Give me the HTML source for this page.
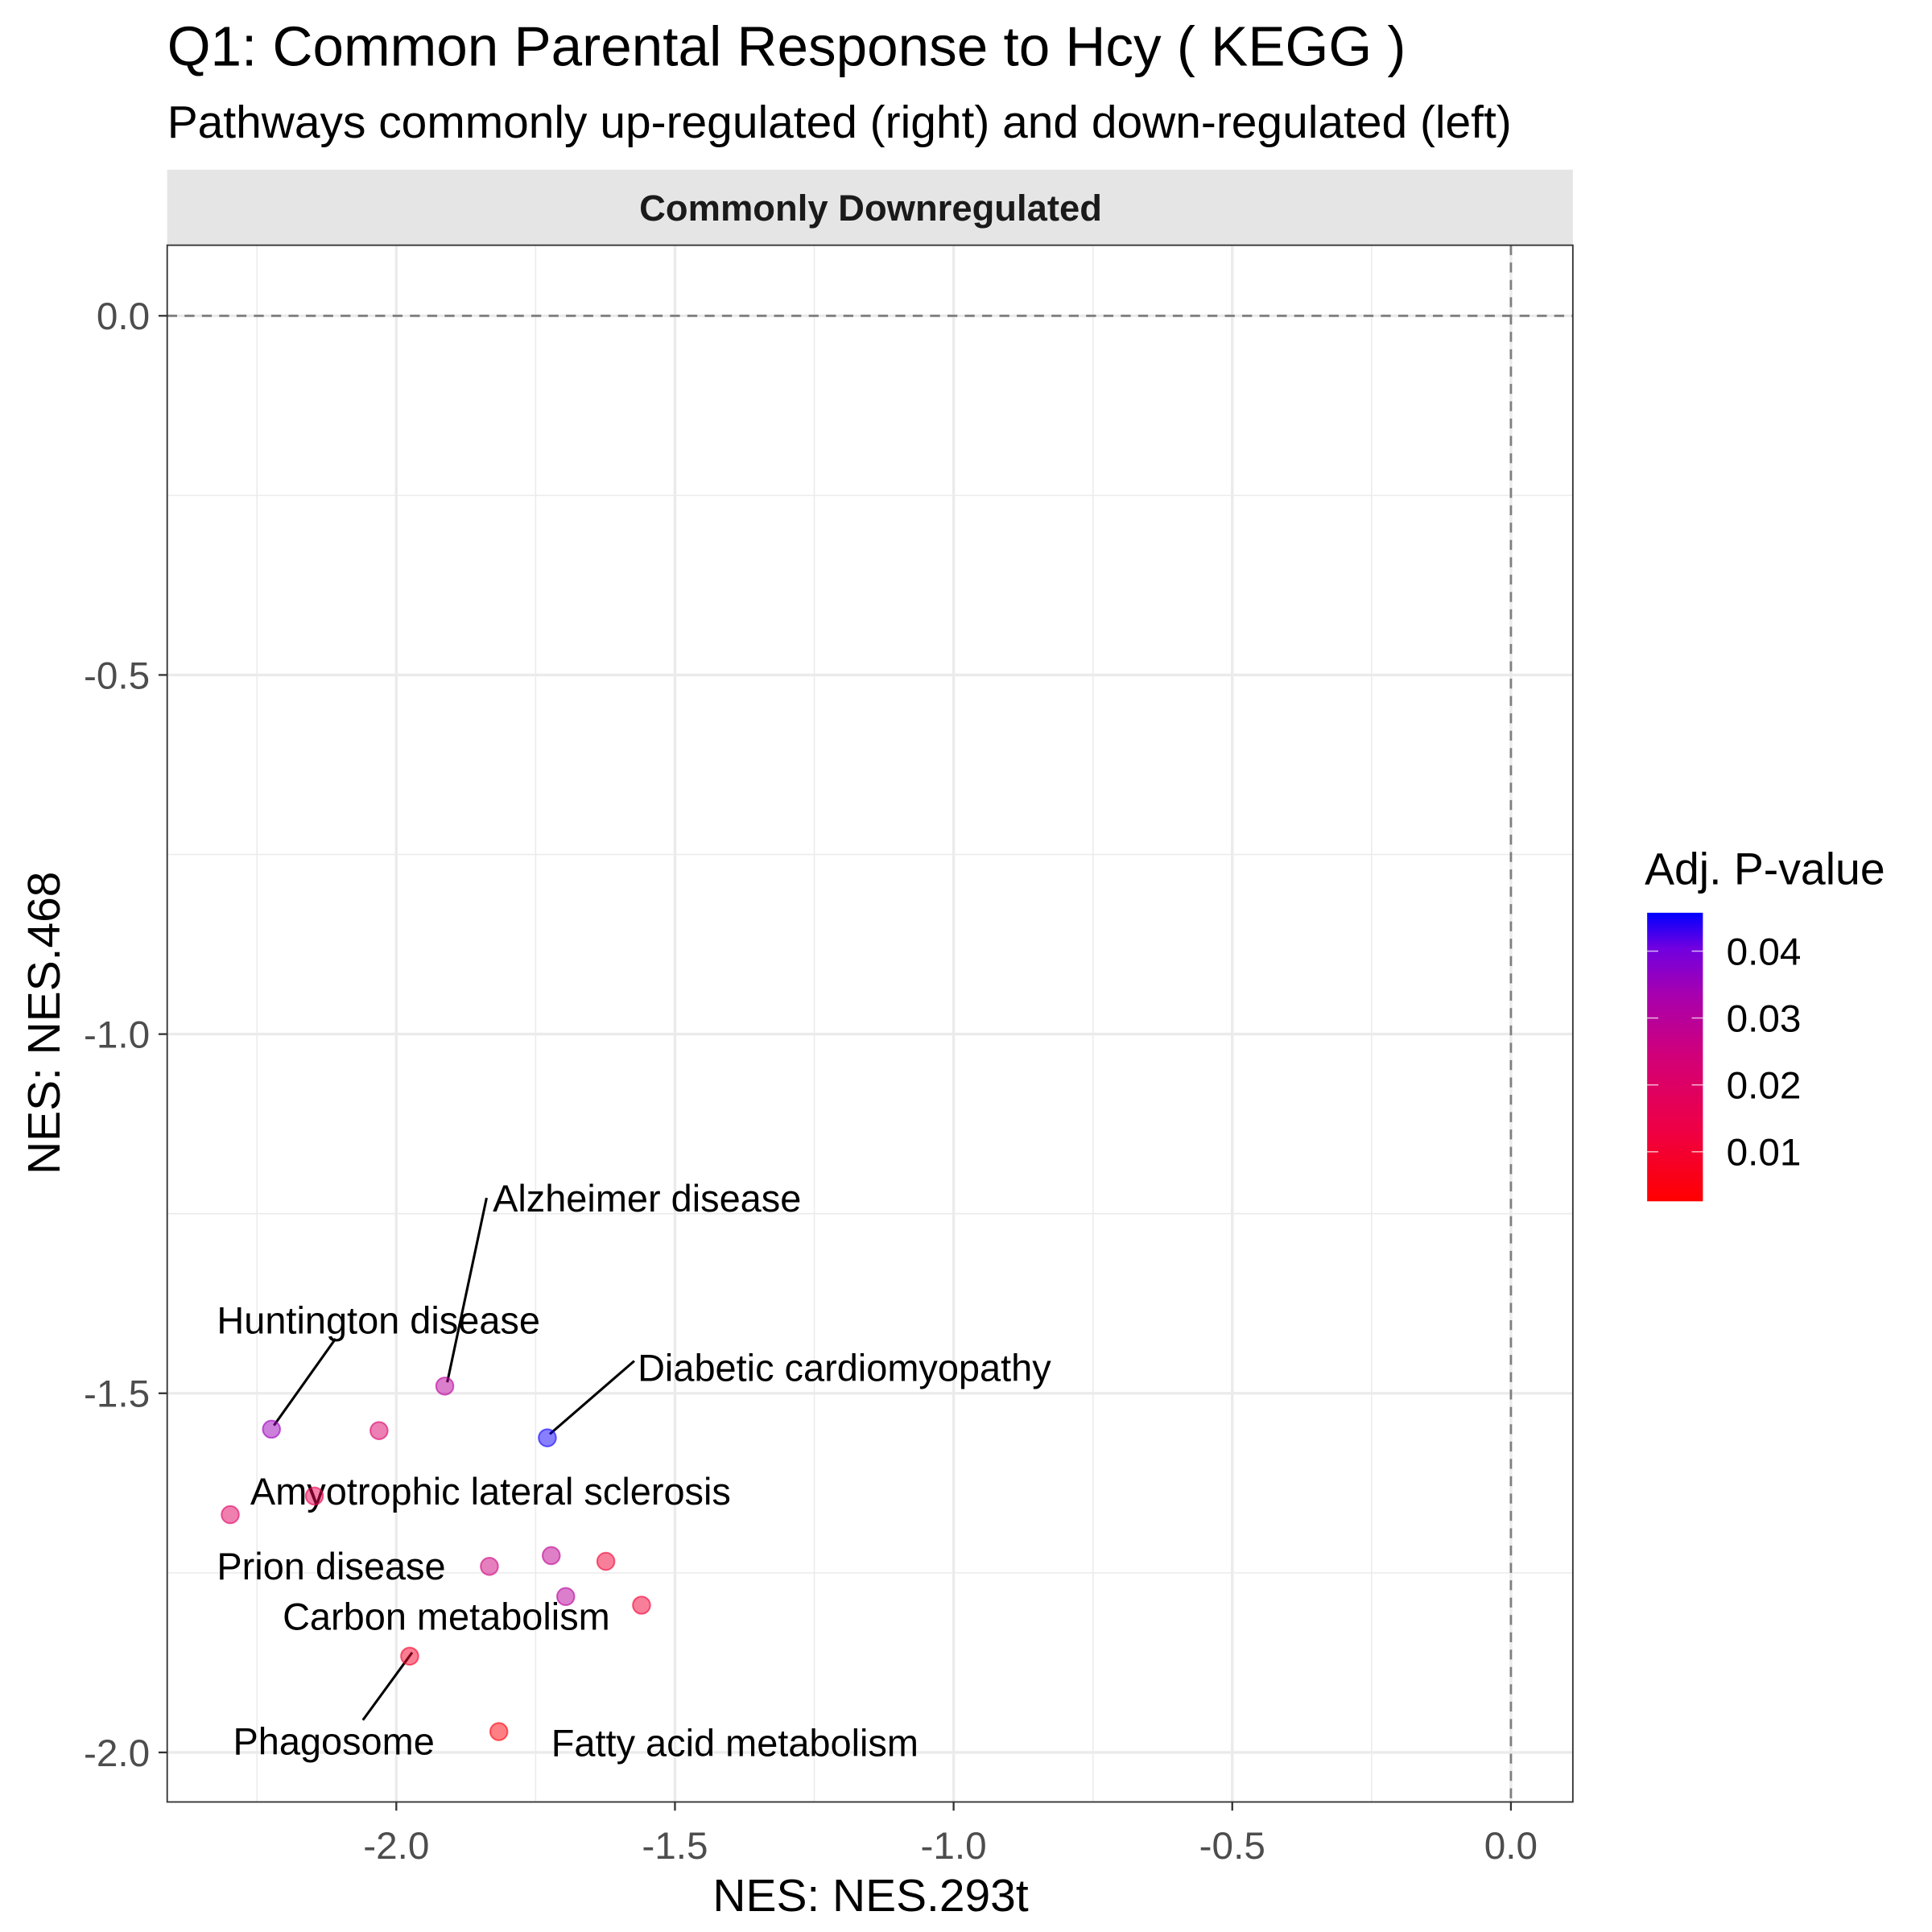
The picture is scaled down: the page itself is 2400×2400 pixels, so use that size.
<!DOCTYPE html>
<html><head><meta charset="utf-8"><style>
html,body{margin:0;padding:0;background:#fff}
svg{display:block;font-family:"Liberation Sans",Arial,sans-serif}
</style></head><body>
<svg id="chart" width="2400" height="2400" viewBox="0 0 1560 1560" xmlns="http://www.w3.org/2000/svg">
<defs>
<linearGradient id="pgrad" x1="0" y1="1" x2="0" y2="0">
<stop offset="0" stop-color="#FF0000"/>
<stop offset="0.25" stop-color="#EE0045"/>
<stop offset="0.5" stop-color="#D20078"/>
<stop offset="0.72" stop-color="#A600B0"/>
<stop offset="0.88" stop-color="#7000E0"/>
<stop offset="1" stop-color="#0000FF"/>
</linearGradient>
</defs>
<text x="135" y="53" font-size="45" fill="#000">Q1: Common Parental Response to Hcy ( KEGG )</text>
<text x="135" y="111" font-size="37" fill="#000">Pathways commonly up-regulated (right) and down-regulated (left)</text>
<rect x="135" y="137" width="1135" height="61" fill="#E5E5E5"/>
<text x="703" y="178" font-size="29.5" font-weight="bold" text-anchor="middle" fill="#1a1a1a">Commonly Downregulated</text>
<g id="grid"></g>
<g id="refs"></g>
<g id="labels"></g>
<g id="points"></g>
<rect x="135" y="198" width="1135" height="1257" fill="none" stroke="#333" stroke-width="1.2"/>
<g id="axes"></g>
<text x="703" y="1543" font-size="37" text-anchor="middle" fill="#000">NES: NES.293t</text>
<text transform="translate(48,826) rotate(-90)" font-size="37" text-anchor="middle" fill="#000">NES: NES.468</text>
<g id="legend">
<text x="1328" y="714" font-size="36" fill="#000">Adj. P-value</text>
<rect x="1330" y="737" width="45" height="233" fill="url(#pgrad)"/>
<g id="legendticks"></g>
</g>
</svg>
<script>
const xTicks=[-2.0,-1.5,-1.0,-0.5,0.0];
const xTickLabels=["-2.0","-1.5","-1.0","-0.5","0.0"];
const yTicks=[0.0,-0.5,-1.0,-1.5,-2.0];
const yTickLabels=["0.0","-0.5","-1.0","-1.5","-2.0"];
const pTicks=[0.01,0.02,0.03,0.04];
const pTickLabels=["0.01","0.02","0.03","0.04"];
const nesX=[-2.224,-2.031,-1.913,-1.729,-2.147,-2.298,-1.833,-1.722,-1.624,-1.696,-1.560,-1.976,-1.816];
const nesY=[-1.550,-1.552,-1.490,-1.562,-1.643,-1.669,-1.741,-1.726,-1.734,-1.783,-1.795,-1.866,-1.971];
const padj=[0.035,0.021,0.030,0.045,0.016,0.019,0.025,0.028,0.011,0.030,0.011,0.009,0.004];
const pointNames=["Huntington disease","","Alzheimer disease","Diabetic cardiomyopathy","Amyotrophic lateral sclerosis","","Prion disease","","","","Carbon metabolism","Phagosome","Fatty acid metabolism"];
const labelX=[-2.322,null,-1.827,-1.567,-2.262,null,-2.322,null,null,null,-2.204,-2.293,-1.722];
const labelY=[-1.398,null,-1.228,-1.464,-1.636,null,-1.740,null,null,null,-1.810,-1.984,-1.986];
const labelSeg=[true,false,true,true,false,false,false,false,false,false,false,true,false];
const segEndX=[-2.109,null,-1.838,-1.573,null,null,null,null,null,null,null,-2.06,null];
const segEndY=[-1.424,null,-1.228,-1.455,null,null,null,null,null,null,null,-1.955,null];

const X=v=>1220+(v-0)*450;
const Y=v=>255-(v-0)*580;
const PY=p=>930-(p-0.01)*5400;
const NS="http://www.w3.org/2000/svg";
function mk(tag,attrs,parent){const e=document.createElementNS(NS,tag);for(const k in attrs)e.setAttribute(k,attrs[k]);document.getElementById(parent).appendChild(e);return e;}
function lerp(a,b,t){return a+(b-a)*t}
const stops=[[0,[255,0,0]],[0.25,[238,0,69]],[0.5,[210,0,120]],[0.72,[166,0,176]],[0.88,[112,0,224]],[1,[0,0,255]]];
function pcol(p){let t=(p-0.0026)/(0.0457-0.0026);t=Math.max(0,Math.min(1,t));
for(let i=1;i<stops.length;i++){if(t<=stops[i][0]){const a=stops[i-1],b=stops[i];const u=(t-a[0])/(b[0]-a[0]);return 'rgb('+a[1].map((c,j)=>Math.round(lerp(c,b[1][j],u))).join(',')+')';}}return 'rgb(0,0,255)';}

for(let i=0;i<xTicks.length-1;i++){const v=(xTicks[i]+xTicks[i+1])/2;const e=mk('line',{x1:X(v),x2:X(v),y1:198,y2:1455,stroke:'#EBEBEB','stroke-width':1},'grid');}
[-2.25].forEach(v=>{const e=mk('line',{x1:X(v),x2:X(v),y1:198,y2:1455,stroke:'#EBEBEB','stroke-width':1},'grid');});
for(let i=0;i<yTicks.length-1;i++){const v=(yTicks[i]+yTicks[i+1])/2;const e=mk('line',{x1:135,x2:1270,y1:Y(v),y2:Y(v),stroke:'#EBEBEB','stroke-width':1},'grid');}
xTicks.forEach((v,i)=>{const g=mk('line',{x1:X(v),x2:X(v),y1:198,y2:1455,stroke:'#EBEBEB','stroke-width':2.2},'grid');
const t=mk('line',{x1:X(v),x2:X(v),y1:1455,y2:1462,stroke:'#333','stroke-width':1.5},'axes');
const l=mk('text',{x:X(v),y:1501,'font-size':31,'text-anchor':'middle',fill:'#4D4D4D'},'axes');l.textContent=xTickLabels[i];});
yTicks.forEach((v,i)=>{const g=mk('line',{x1:135,x2:1270,y1:Y(v),y2:Y(v),stroke:'#EBEBEB','stroke-width':2.2},'grid');
const t=mk('line',{x1:128,x2:135,y1:Y(v),y2:Y(v),stroke:'#333','stroke-width':1.5},'axes');
const l=mk('text',{x:121,y:Y(v)+11,'font-size':31,'text-anchor':'end',fill:'#4D4D4D'},'axes');l.textContent=yTickLabels[i];});
let r1=mk('line',{x1:135,x2:1270,y1:Y(0),y2:Y(0),stroke:'#7F7F7F','stroke-width':1.8,'stroke-dasharray':'8,6'},'refs');

let r2=mk('line',{x1:X(0),x2:X(0),y1:198,y2:1455,stroke:'#7F7F7F','stroke-width':1.8,'stroke-dasharray':'8,6'},'refs');

nesX.forEach((v,i)=>{const c=pcol(padj[i]);const e=mk('circle',{cx:X(v),cy:Y(nesY[i]),r:7,fill:c,'fill-opacity':0.5,stroke:c,'stroke-opacity':0.6,'stroke-width':1.3},'points');

});
pointNames.forEach((n,i)=>{if(!n)return;
if(labelSeg[i]){const s=mk('line',{x1:X(nesX[i])+2,y1:Y(nesY[i])-3,x2:X(segEndX[i]),y2:Y(segEndY[i]),stroke:'#000','stroke-width':2},'labels');}
const t=mk('text',{x:X(labelX[i]),y:Y(labelY[i])+11,'font-size':30.5,fill:'#000'},'labels');t.textContent=n;

});
pTicks.forEach((p,i)=>{const a=mk('line',{x1:1330,x2:1339,y1:PY(p),y2:PY(p),stroke:'#fff','stroke-opacity':0.7,'stroke-width':1},'legendticks');
const b=mk('line',{x1:1366,x2:1375,y1:PY(p),y2:PY(p),stroke:'#fff','stroke-opacity':0.7,'stroke-width':1},'legendticks');
const l=mk('text',{x:1394,y:PY(p)+11,'font-size':31,fill:'#000'},'legendticks');l.textContent=pTickLabels[i];});
</script>
</body></html>
